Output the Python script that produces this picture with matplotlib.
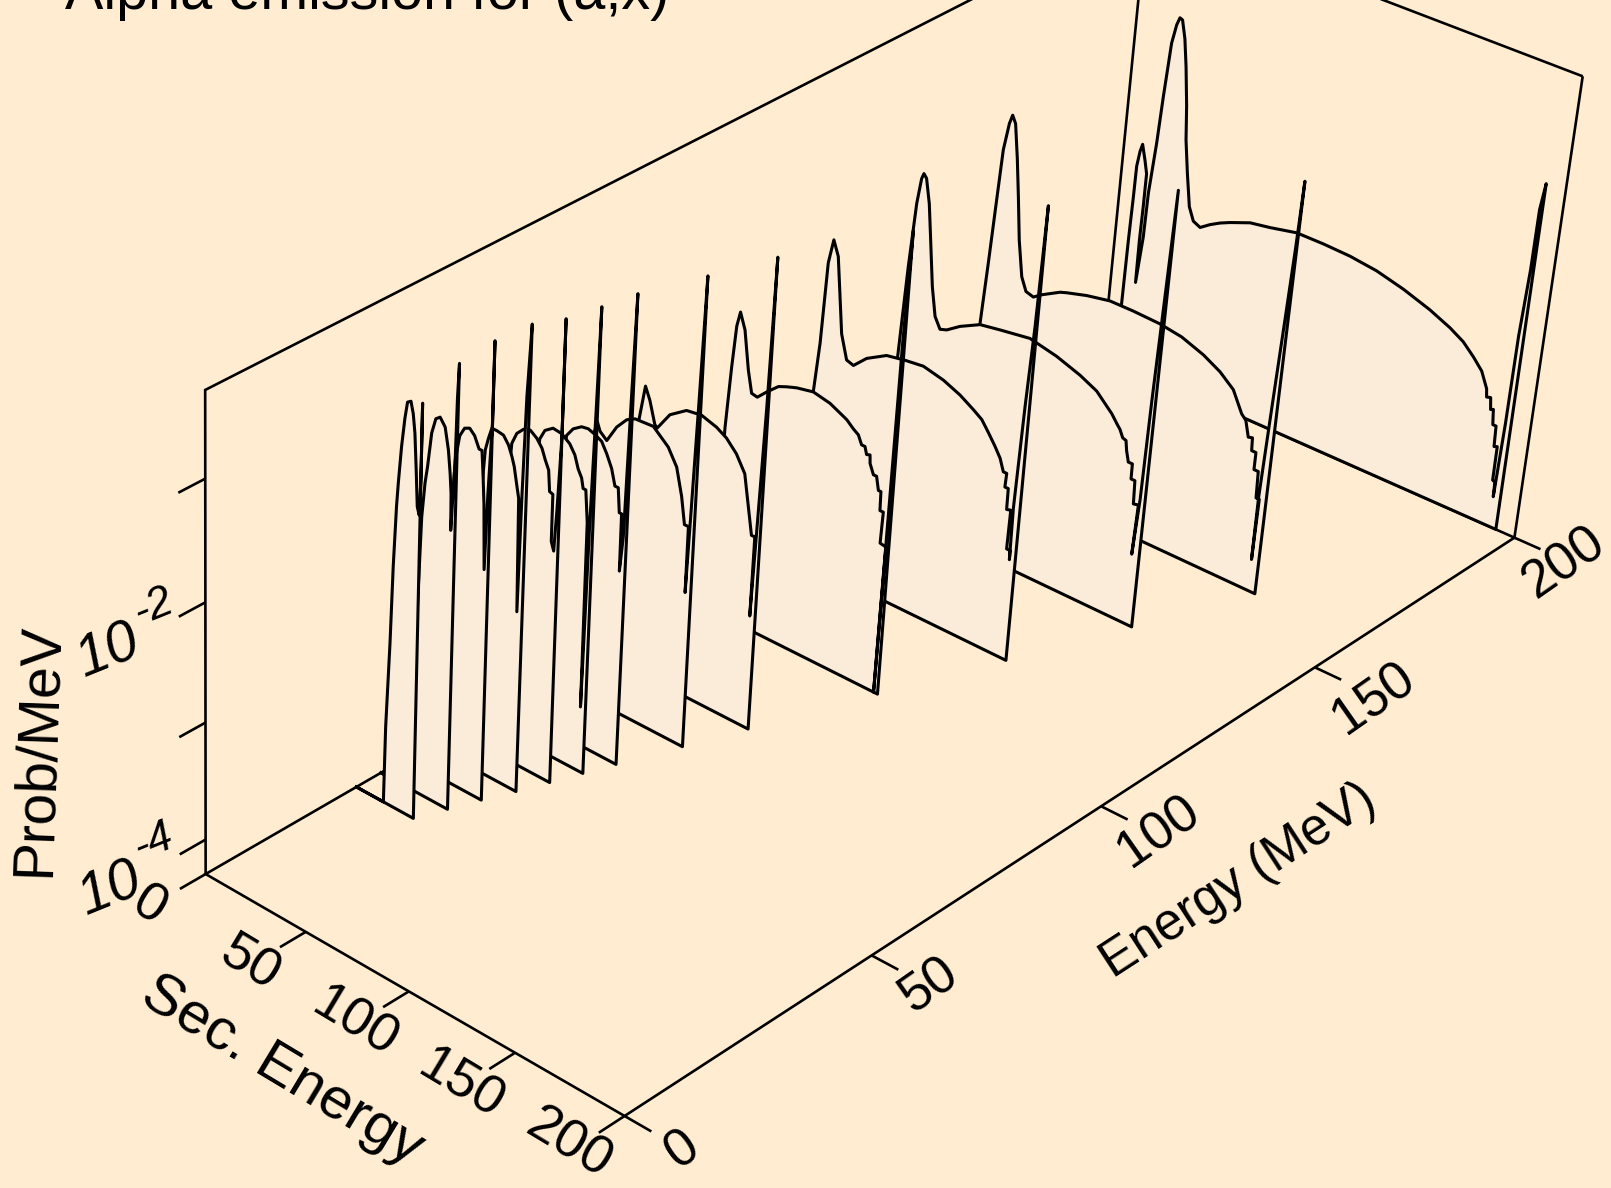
import numpy as np
import matplotlib
matplotlib.use("Agg")
import matplotlib.pyplot as plt

plt.rcParams['font.family'] = ['Liberation Sans', 'DejaVu Sans']

BG = '#ffecd1'
FILL = '#faecd9'
Z0 = -4.3   # log10(prob) at the floor
Z1 = -0.3

incident = [30, 35, 40, 45, 50, 55, 60, 70, 80, 100, 120, 140, 160, 200]

sec_30 = [0,13.6,14.0,15.3,16.1,17.1,17.7,18.9,20.2,21.3,22.9,24.1,25.1,26.1,27.0,28.0,28.4,28.4,28.6]
log_30 = [-4.3,-4.3,-3.64,-2.91,-2.26,-1.75,-1.56,-1.25,-1.01,-0.87,-0.85,-0.94,-1.09,-1.38,-1.67,-1.73,-1.44,-0.82,-4.3]
sec_35 = [0,14,17.3,18.5,19.5,21.1,22.9,24.9,27.4,29.2,30.3,31.0,31.3,32.5,32.8,33.3,33.4]
log_35 = [-4.3,-4.3,-1.95,-1.66,-1.52,-1.23,-1.10,-1.07,-1.13,-1.30,-1.48,-1.64,-1.94,-1.38,-0.85,-0.57,-4.3]
sec_40 = [0,14,20.8,22.6,24.8,27.2,29.6,31.9,33.3,34.2,35.0,36.0,36.7,37.8,37.8,38.1]
log_40 = [-4.3,-4.3,-1.56,-1.35,-1.27,-1.25,-1.29,-1.38,-1.38,-1.59,-1.81,-2.34,-1.70,-1.12,-0.46,-4.3]
sec_45 = [0,14,23.2,24.6,26.0,28.4,31.6,34.1,35.9,37.1,38.7,39.7,40.7,41.2,41.9,43.2,43.3]
log_45 = [-4.3,-4.3,-1.57,-1.46,-1.37,-1.37,-1.38,-1.44,-1.52,-1.59,-1.74,-1.83,-2.77,-1.80,-0.98,-0.39,-4.3]
sec_50 = [0,14,24.1,26.3,29.4,32.6,35.8,38.4,40.1,41.9,42.7,44.3,44.4,45.7,46.5,47.5,47.3,48.1]
log_50 = [-4.3,-4.3,-1.62,-1.52,-1.46,-1.44,-1.48,-1.54,-1.62,-1.69,-1.86,-1.87,-2.26,-2.33,-1.98,-1.37,-0.42,-4.3]
sec_55 = [0,14,25.8,28.1,31.9,36.0,40.0,42.6,44.4,46.2,47.1,48.4,49.7,50.2,50.9,51.6,52.2,52.7]
log_55 = [-4.3,-4.3,-1.68,-1.59,-1.54,-1.55,-1.60,-1.67,-1.77,-1.83,-1.91,-1.91,-2.17,-3.74,-2.17,-1.28,-0.39,-4.3]
sec_60 = [0,14,27.1,30.1,34.0,37.2,40.4,43.7,46.3,48.9,50.8,52.4,53.4,54.5,54.7,55.8,56.6,57.3,57.4]
log_60 = [-4.3,-4.3,-1.75,-1.67,-1.62,-1.61,-1.63,-1.66,-1.74,-1.84,-1.97,-1.97,-2.17,-2.17,-2.65,-2.35,-1.16,-0.35,-4.3]
sec_70 = [0,13,16.2,17.4,19.0,20.5,23.9,28.3,32.9,36.8,45.5,52.9,57.3,60.3,62.3,64.2,64.3,65.0,65.9,66.9,67.0]
log_70 = [-4.3,-4.3,-2.55,-2.06,-1.92,-1.99,-2.04,-1.89,-1.79,-1.75,-1.74,-1.85,-1.98,-2.20,-2.42,-2.42,-2.98,-2.33,-1.43,-0.34,-4.3]
sec_80 = [0,12,14.7,16.7,19.1,21.5,24.4,25.6,31.3,39.0,46.1,53.4,58.3,63.3,67.7,70.1,72.5,74.1,74.0,74.8,75.9,76.7,76.5]
log_80 = [-4.3,-4.3,-2.42,-2.15,-1.84,-1.94,-2.12,-2.14,-1.98,-1.88,-1.86,-1.90,-1.95,-2.04,-2.17,-2.41,-2.65,-2.65,-3.33,-2.61,-1.57,-0.32,-4.3]
sec_100 = [0,13,15.1,16.6,17.9,19.3,21.9,24.6,26.8,29.6,33.9,39.2,43.1,47.8,55.6,63.7,71.9,75.2,77.7,79.5,81.1,82.1,83.7,84.0,85.9,87.4,88.7,89.9,90.1,91.7,91.3,94.1,93.5,94.0,94.6,95.5,95.4]
log_100 = [-4.3,-4.3,-2.66,-2.13,-1.77,-1.64,-1.77,-2.09,-2.27,-2.28,-2.20,-2.11,-2.08,-2.05,-2.02,-2.05,-2.12,-2.17,-2.20,-2.27,-2.27,-2.33,-2.32,-2.39,-2.47,-2.47,-2.58,-2.58,-2.74,-2.74,-3.01,-3.02,-4.3,-3.02,-1.29,-0.37,-4.3]
sec_120 = [0,12,14.8,16.5,17.8,19.7,22.3,26.4,29.6,33.0,39.0,48.2,56.9,65.6,75.3,83.4,90.0,94.2,97.6,101.2,104.0,106.0,107.6,107.3,108.9,109.0,110.9,110.6,112.2,112.3,112.0,113.1,114.3,115.3,114.9]
log_120 = [-4.3,-4.3,-2.79,-2.35,-1.65,-1.44,-1.56,-2.19,-2.39,-2.41,-2.30,-2.20,-2.17,-2.15,-2.19,-2.25,-2.32,-2.37,-2.45,-2.54,-2.62,-2.72,-2.72,-2.84,-2.84,-3.02,-3.01,-3.35,-3.35,-3.43,-2.98,-2.10,-1.42,-0.42,-4.3]
sec_140 = [0,11.5,13.9,15.7,17.4,18.8,19.7,21.1,23.3,25.3,27.8,30.2,33.0,36.2,42.3,51.6,61.0,75.1,88.0,99.4,107.6,113.5,115.3,117.0,118.3,119.7,121.3,122.9,123.6,124.9,126.8,126.9,128.7,129.1,131.4,130.7,131.9,132.5,134.4,134.1]
log_140 = [-4.3,-4.3,-2.92,-2.11,-1.55,-1.33,-1.28,-1.31,-1.51,-1.81,-2.19,-2.43,-2.52,-2.50,-2.42,-2.33,-2.30,-2.26,-2.31,-2.38,-2.45,-2.55,-2.58,-2.62,-2.65,-2.68,-2.74,-2.75,-2.83,-2.92,-2.92,-3.05,-3.05,-3.25,-3.24,-3.68,-3.19,-2.33,-0.55,-4.3]
sec_160 = [0,11.5,13.3,14.8,16.2,17.3,19.1,20.3,22.0,24.2,26.3,28.5,31.2,33.8,37.5,41.3,49.8,52.9,62.3,73.2,84.3,97.0,107.4,118.0,126.2,133.0,137.9,140.1,142.0,143.9,144.2,146.2,146.2,148.2,148.6,150.1,149.8,149.7,150.9,152.0,152.9,153.5,153.1]
log_160 = [-4.3,-4.3,-3.05,-2.50,-1.93,-1.49,-1.25,-1.17,-1.23,-1.51,-1.83,-2.19,-2.49,-2.60,-2.62,-2.57,-2.48,-2.46,-2.41,-2.37,-2.37,-2.38,-2.41,-2.48,-2.56,-2.66,-2.83,-2.87,-3.00,-2.99,-3.10,-3.10,-3.25,-3.25,-3.48,-3.48,-4.02,-3.47,-2.63,-1.91,-1.30,-0.73,-4.3]
sec_200 = [0,6.2,6.5,6.7,7.0,7.1,8.0,8.9,10.8,12.2,12.2,12.0,12.2,13.7,14.0,15.5,16.4,17.7,19.2,20.4,21.7,23.7,25.6,27.8,29.2,31.5,34.1,36.7,40.2,44.7,49.3,53.9,63.3,72.7,85.2,97.9,110.6,123.3,136.2,149.1,159.0,165.6,170.9,175.4,178.6,179.1,180.9,181.6,182.8,183.5,185.0,185.4,186.8,186.9,188.0,188.2,188.9,189.1,190.1,190.2,191.4,191.4]
log_200 = [-4.3,-4.3,-3.77,-3.17,-2.78,-2.50,-2.36,-2.29,-2.42,-2.53,-2.83,-3.13,-3.52,-3.09,-2.69,-2.23,-1.81,-1.33,-1.16,-1.09,-1.10,-1.25,-1.48,-1.81,-2.10,-2.38,-2.66,-2.77,-2.80,-2.74,-2.69,-2.65,-2.58,-2.55,-2.50,-2.50,-2.51,-2.54,-2.60,-2.68,-2.76,-2.83,-2.92,-3.01,-3.14,-3.21,-3.20,-3.30,-3.29,-3.42,-3.42,-3.60,-3.59,-3.89,-3.90,-4.03,-3.36,-2.59,-2.00,-1.49,-1.26,-4.3]

secs = [sec_30, sec_35, sec_40, sec_45, sec_50, sec_55, sec_60, sec_70, sec_80, sec_100, sec_120, sec_140, sec_160, sec_200]
logs = [log_30, log_35, log_40, log_45, log_50, log_55, log_60, log_70, log_80, log_100, log_120, log_140, log_160, log_200]

energy_ticks = [0, 50, 100, 150, 200]
sec_ticks = [0, 50, 100, 150, 200]
log_ticks = [-4, -3, -2, -1]

# camera: (energy, sec, log10 p) -> pixel, fitted on where the box lands in the picture
anchors = [(0,0,-4.3,205.5,873.3),(0,0,-.3,205.5,390.4),(0,200,-4.3,623.6,1115.8),(200,200,-4.3,1513.4,536.8),
           (200,200,-.3,1583.5,77),(200,0,-.3,1146,-91),(200,0,-4.3,1104,356),(0,0,-4,205.5,840.6),(0,0,-3,205.5,722.7),
           (0,0,-2,205.5,602.5),(0,0,-1,205.5,478),(50,200,-4.3,873.3,955.5),(100,200,-4.3,1101.4,806.5),
           (150,200,-4.3,1315,667.8),(0,50,-4.3,306,932),(0,100,-4.3,409,991.5),(0,150,-4.3,513.7,1052)]
rows = []
for e, s, z, u, v in anchors:
    rows.append([e, s, z, 1, 0, 0, 0, 0, -u*e, -u*s, -u*z, -u])
    rows.append([0, 0, 0, 0, e, s, z, 1, -v*e, -v*s, -v*z, -v])
cam = np.linalg.svd(np.array(rows))[2][-1].reshape(3, 4)


def proj(e, s, z):
    e, s, z = np.broadcast_arrays(e, s, z)
    w = cam @ np.vstack([e, s, z, np.ones(e.shape)])
    return w[0] / w[2], w[1] / w[2]


fig = plt.figure(figsize=(16.11, 11.88), dpi=100, facecolor=BG)
ax = fig.add_axes([0, 0, 1, 1])
ax.set_xlim(0, 1611)
ax.set_ylim(1188, 0)
ax.axis('off')

LW = 1.9


def line3(e, s, z, lw=LW, zorder=2):
    x, y = proj(e, s, z)
    ax.plot(x, y, color='black', lw=lw, solid_capstyle='butt', solid_joinstyle='miter', zorder=zorder)


# box
line3([0, 0, 200, 200, 200, 200], [200, 0, 0, 200, 200, 200], [Z0, Z0, Z0, Z0, Z1, Z1])
line3([0, 0, 200, 200], [0, 0, 0, 200], [Z0, Z1, Z1, Z1])
line3([0, 200], [200, 200], [Z0, Z0])
line3([200, 200], [0, 0], [Z0, Z1])

# ticks
for t in energy_ticks:
    line3([t, t], [200, 212], [Z0, Z0])
for t in sec_ticks:
    line3([0, -5], [t, t], [Z0, Z0])
for t in log_ticks:
    line3([0, -5], [0, 0], [t, t])

# slices, back to front
for i in range(len(incident) - 1, -1, -1):
    x, y = proj(incident[i], np.array(secs[i]), np.array(logs[i]))
    z = 10 + 2 * (len(incident) - i)
    ax.fill(x, y, facecolor=FILL, edgecolor='none', zorder=z)
    ax.plot(np.r_[x, x[0]], np.r_[y, y[0]], color='black', lw=2.2, solid_joinstyle='round', zorder=z + 1)

# text
ax.text(65, 9, 'Alpha emission for (a,x)', fontsize=41.4, va='baseline', ha='left')
ax.text(38, 750, 'Prob/MeV', fontsize=41, rotation=88, ha='center', va='center')
ax.text(282, 1071, 'Sec. Energy', fontsize=42, rotation=-31, ha='center', va='center')
ax.text(1238, 881, 'Energy (MeV)', fontsize=37, rotation=33, ha='center', va='center')
for txt, px, py in [('0', 149, 906), ('50', 250, 964), ('100', 355, 1023), ('150', 461, 1085), ('200', 568, 1144)]:
    ax.text(px, py, txt, fontsize=39, rotation=-31, ha='center', va='center')
for txt, px, py in [('0', 683, 1150), ('50', 930, 985), ('100', 1159, 832), ('150', 1374, 699), ('200', 1564, 563)]:
    ax.text(px, py, txt, fontsize=38, rotation=35, ha='center', va='center')
for (px, py, ex, ey, txt) in [(110, 890, 154, 842, '-4'), (108, 652, 154, 607, '-2')]:
    ax.text(px, py, '10', fontsize=41, rotation=22, style='italic', ha='center', va='center')
    ax.text(ex, ey, txt, fontsize=32, rotation=22, style='italic', ha='center', va='center')

fig.savefig('out.png', facecolor=BG)
